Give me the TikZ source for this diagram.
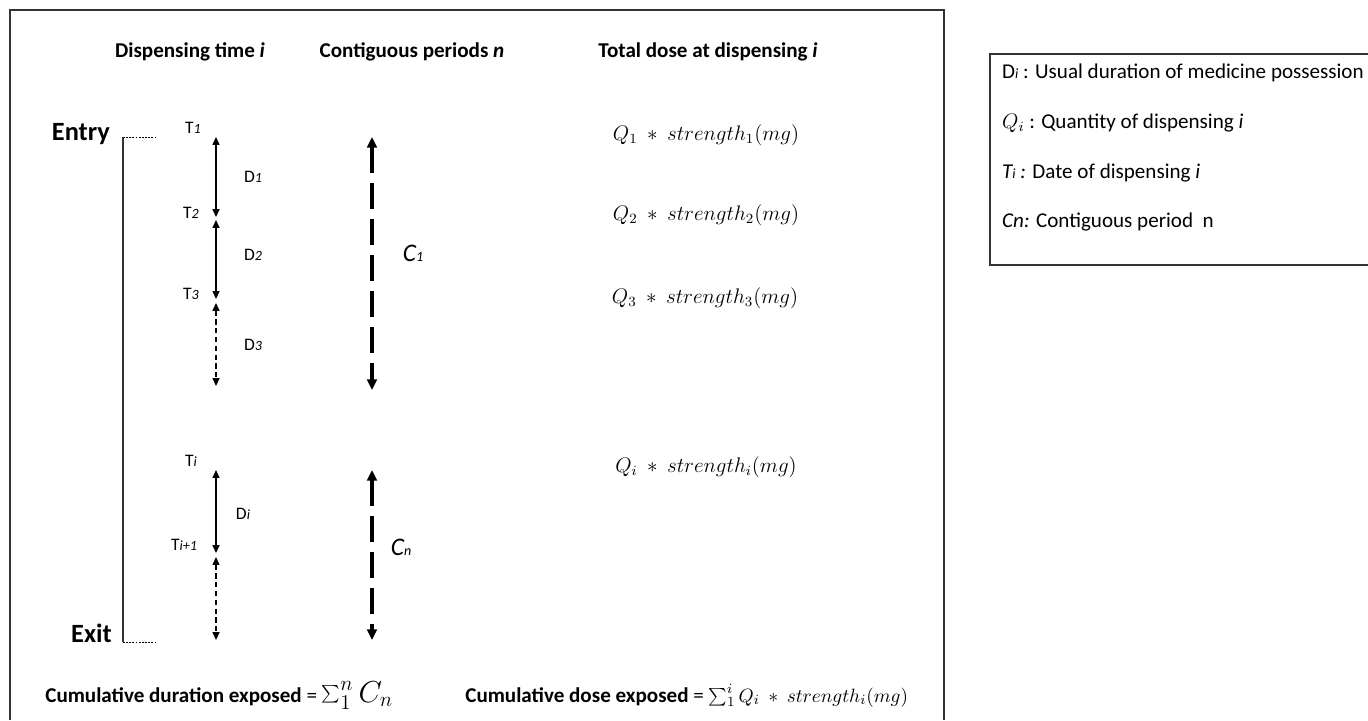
\documentclass[tikz,border=0pt]{standalone}
\usepackage{fontspec}
\setmainfont{Carlito}
\usetikzlibrary{arrows.meta}

\tikzset{
  colhead/.style={font=\large\bfseries},
  frameline/.style={line width=0.6pt,black!80},
  period/.style={{Triangle[length=4.5pt,width=4pt]}-{Triangle[length=4.5pt,width=4pt]},line width=0.7pt},
  openperiod/.style={period,dash pattern=on 3pt off 2pt},
  contig/.style={{Triangle[length=6pt,width=5.5pt]}-{Triangle[length=6pt,width=5.5pt]},line width=2pt,dash pattern=on 15pt off 5.5pt},
  dose/.style={font=\large},
  legend/.style={anchor=west,font=\large},
  bigword/.style={anchor=base east,font=\fontsize{15}{18}\selectfont\bfseries},
  tickline/.style={line width=0.4pt,dash pattern=on 1pt off 0.8pt}
}

\begin{document}
\begin{tikzpicture}[x=0.02cm,y=-0.02cm]

    \useasboundingbox (0,0) rectangle (1368,720);

    % --------------------------------------------------------- %
    % ------------- frames
    % --------------------------------------------------------- %
    \draw[frameline] (10,720) -- (10,10) -- (944,10) -- (944,720);
    \draw[frameline] (1368,54) -- (990,54) -- (990,265) -- (1368,265);

    % --------------------------------------------------------- %
    % ------------- column headers
    % --------------------------------------------------------- %
    \node[colhead] (hdisp) at (190,52) {Dispensing time \textit{i}};
    \node[colhead] (hcont) at (412,52) {Contiguous periods \textit{n}};
    \node[colhead] (hdose) at (708,52) {Total dose at dispensing \textit{i}};

    % --------------------------------------------------------- %
    % ------------- entry / exit bracket
    % --------------------------------------------------------- %
    \node[bigword] (entry) at (116,140) {Entry};
    \node[bigword] (exit) at (118,642) {Exit};
    \coordinate (entryc) at (123,137);
    \coordinate (entryd) at (157,137);
    \coordinate (exitc) at (123,642);
    \coordinate (exitd) at (157,642);
    \draw[tickline] (entryc) -- (entryd);
    \draw[tickline] (exitc) -- (exitd);
    \draw[line width=0.6pt,black!80] (entryc) -- (exitc);

    % --------------------------------------------------------- %
    % ------------- dispensing times
    % --------------------------------------------------------- %
    \node (T1) at (193,128) {T\textit{\footnotesize 1}};
    \node (T2) at (191,213) {T\textit{\footnotesize 2}};
    \node (T3) at (191,294) {T\textit{\footnotesize 3}};
    \node (Ti) at (191,461) {T\textit{\footnotesize i}};
    \node (Tip) at (184,545) {T\textit{\footnotesize i+1}};

    \coordinate (d1a) at (216,137);
    \coordinate (d1b) at (216,217);
    \coordinate (d2a) at (216,220);
    \coordinate (d2b) at (216,299);
    \coordinate (d3a) at (216,303);
    \coordinate (d3b) at (216,386);
    \coordinate (dia) at (216,470);
    \coordinate (dib) at (216,553);
    \coordinate (dja) at (216,557);
    \coordinate (djb) at (216,640);

    \draw[period] (d1a) -- (d1b);
    \draw[period] (d2a) -- (d2b);
    \draw[openperiod] (d3a) -- (d3b);
    \draw[period] (dia) -- (dib);
    \draw[openperiod] (dja) -- (djb);

    \node (D1) at (253,177) {D\textit{\footnotesize 1}};
    \node (D2) at (253,255) {D\textit{\footnotesize 2}};
    \node (D3) at (253,345) {D\textit{\footnotesize 3}};
    \node (Di) at (243,514) {D\textit{\footnotesize i}};

    % --------------------------------------------------------- %
    % ------------- contiguous periods
    % --------------------------------------------------------- %
    \coordinate (c1a) at (372,137);
    \coordinate (c1b) at (372,390);
    \coordinate (cna) at (372,470);
    \coordinate (cnb) at (372,640);
    \draw[contig] (c1a) -- (c1b);
    \draw[contig] (cna) -- (cnb);

    \node[font=\Large] (C1) at (413,253) {\textit{C\footnotesize 1}};
    \node[font=\Large] (Cn) at (401,547) {\textit{C\footnotesize n}};

    % --------------------------------------------------------- %
    % ------------- doses
    % --------------------------------------------------------- %
    \node[dose] (Q1) at (706,135) {$Q_1\ \ast\ strength_1(mg)$};
    \node[dose] (Q2) at (706,215) {$Q_2\ \ast\ strength_2(mg)$};
    \node[dose] (Q3) at (705,298) {$Q_3\ \ast\ strength_3(mg)$};
    \node[dose] (Qi) at (706,467) {$Q_i\ \ast\ strength_i(mg)$};

    % --------------------------------------------------------- %
    % ------------- cumulative totals
    % --------------------------------------------------------- %
    \node[anchor=base west,inner sep=0pt] (cumdur) at (45,702)
      {\large\textbf{Cumulative duration exposed} = {\LARGE$\sum\nolimits_1^n C_n$}};
    \node[anchor=base west,inner sep=0pt] (cumdose) at (465,702)
      {\large\textbf{Cumulative dose exposed} = {\fontsize{11}{13}\selectfont$\sum_1^i Q_i\ \ast\ strength_i(mg)$}};

    % --------------------------------------------------------- %
    % ------------- legend
    % --------------------------------------------------------- %
    \node[legend] (lgD) at (996,73) {D\textit{\footnotesize i} : Usual duration of medicine possession};
    \node[legend] (lgQ) at (996,123) {$Q_i$ : Quantity of dispensing \textit{i}};
    \node[legend] (lgT) at (996,173) {\textit{T{\footnotesize i} :} Date of dispensing \textit{i}};
    \node[legend] (lgC) at (996,222) {\textit{Cn:} Contiguous period\ \ n};

\end{tikzpicture}
\end{document}
